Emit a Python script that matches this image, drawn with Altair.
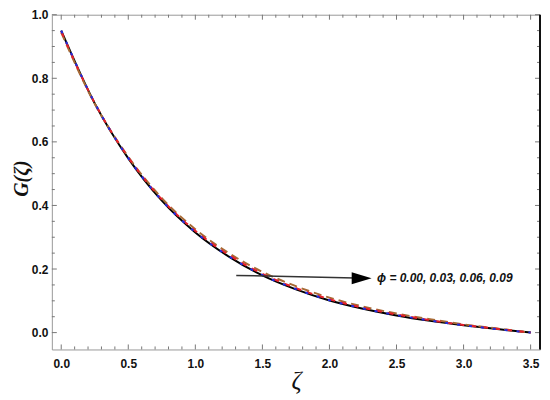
import altair as alt
import pandas as pd

# ---- data ----
zeta = [0.0, 0.25, 0.5, 0.75, 1.0, 1.25, 1.5, 1.75, 2.0, 2.25, 2.5, 2.75, 3.0, 3.25, 3.5]
G_black = [0.950, 0.721, 0.548, 0.415, 0.315, 0.239, 0.180, 0.136, 0.101, 0.075, 0.054, 0.037, 0.023, 0.011, 0.0]
G_blue = [0.950, 0.722, 0.549, 0.416, 0.316, 0.240, 0.181, 0.137, 0.102, 0.076, 0.055, 0.038, 0.023, 0.011, 0.0]
G_red = [0.948, 0.722, 0.551, 0.419, 0.320, 0.244, 0.185, 0.140, 0.105, 0.078, 0.057, 0.039, 0.024, 0.012, 0.0]
G_brown = [0.944, 0.720, 0.553, 0.423, 0.325, 0.250, 0.191, 0.146, 0.110, 0.082, 0.060, 0.042, 0.026, 0.013, 0.0]

x_major = [0.0, 0.5, 1.0, 1.5, 2.0, 2.5, 3.0, 3.5]
y_major = [0.0, 0.2, 0.4, 0.6, 0.8, 1.0]
x_minor = [round(i * 0.1, 2) for i in range(0, 36) if i % 5 != 0]
y_minor = [round(i * 0.05, 2) for i in range(0, 20) if i % 4 != 0]

arrow_x = [1.305, 2.19]
arrow_y = [0.180, 0.1715]
head_x = [2.24]
head_y = [0.171]
label_x = [2.355]
label_y = [0.171]
label_text = ["ϕ = 0.00, 0.03, 0.06, 0.09"]

W, H = 490, 336
XDOM = [-0.07, 3.57]
YDOM = [-0.053, 1.0]
xs = alt.Scale(domain=XDOM, nice=False, zero=False)
ys = alt.Scale(domain=YDOM, nice=False, zero=False)

LABEL_FONT = "Liberation Sans"

XAXIS = alt.Axis(
    values=x_major, format=".1f", ticks=False, domain=False, grid=False,
    labelFont=LABEL_FONT, labelFontWeight="bold", labelFontSize=12, labelColor="#111",
    labelPadding=9, title="ζ", titleFont="Liberation Serif", titleFontStyle="italic",
    titleFontWeight="normal", titleFontSize=25, titleColor="#111",
    titleY=39, titleBaseline="alphabetic")
YAXIS = alt.Axis(
    values=y_major, format=".1f", ticks=False, domain=False, grid=False,
    labelFont=LABEL_FONT, labelFontWeight="bold", labelFontSize=12, labelColor="#111",
    labelPadding=4, title="G(ζ)", titleFont="Liberation Serif", titleFontStyle="italic",
    titleFontWeight="bold", titleFontSize=20, titleColor="#111",
    titleX=-30, titleY=164, titleAlign="center", titleBaseline="middle", titleAngle=-90)

def X():
    return alt.X("x:Q", scale=xs, axis=XAXIS)

def Y():
    return alt.Y("y:Q", scale=ys, axis=YAXIS)

def series(vals, name):
    return pd.DataFrame({"x": zeta, "y": vals, "s": name})

def curve(vals, name, color, dash):
    mk = dict(color=color, strokeWidth=2, interpolate="monotone")
    if dash:
        mk["strokeDash"] = dash
    return alt.Chart(series(vals, name)).mark_line(**mk).encode(x=X(), y=Y())

black = curve(G_black, "black", "#000000", None)
brown = curve(G_brown, "brown", "#a86a36", [8, 5])
red = curve(G_red, "red", "#e8202a", [6, 6])
blue = curve(G_blue, "blue", "#1f2ee0", [3, 9])

TICK = "#777777"

def xticks(vals, length, top):
    df = pd.DataFrame({"x": vals})
    if top:
        y1, y2 = 0, length
    else:
        y1, y2 = H, H - length
    return alt.Chart(df).mark_rule(color=TICK, strokeWidth=1).encode(
        x=X(), y=alt.value(y1), y2=alt.value(y2))

def yticks(vals, length, right):
    df = pd.DataFrame({"y": vals})
    if right:
        x1, x2 = W, W - length
    else:
        x1, x2 = 0, length
    return alt.Chart(df).mark_rule(color=TICK, strokeWidth=1).encode(
        y=Y(), x=alt.value(x1), x2=alt.value(x2))

ticks = [
    xticks(x_major, 5, False), xticks(x_minor, 3, False),
    xticks(x_major, 5, True), xticks(x_minor, 3, True),
    yticks(y_major, 5, False), yticks(y_minor, 3, False),
    yticks(y_major, 5, True), yticks(y_minor, 3, True),
]

right_frame = alt.Chart(pd.DataFrame({"k": [0]})).mark_rule(color="#111", strokeWidth=2).encode(
    x=alt.value(W), y=alt.value(0), y2=alt.value(H))

arrow_line = alt.Chart(pd.DataFrame({"x": arrow_x, "y": arrow_y})).mark_line(
    color="#333", strokeWidth=1.5).encode(x=X(), y=Y())

arrow_head = alt.Chart(pd.DataFrame({"x": head_x, "y": head_y})).mark_point(
    shape="M-1,-0.6L1,0L-1,0.6Z", filled=True, color="#000", size=400, opacity=1).encode(
    x=X(), y=Y())

label = alt.Chart(pd.DataFrame({"x": label_x, "y": label_y, "t": label_text})).mark_text(
    align="left", baseline="middle", font="Liberation Sans, DejaVu Sans", fontSize=12,
    fontWeight="bold", fontStyle="italic", color="#111").encode(
    x=X(), y=Y(), text="t:N")

chart = alt.layer(
    black, brown, red, blue, *ticks, right_frame, arrow_line, arrow_head, label
).properties(
    width=W, height=H,
    autosize=alt.AutoSizeParams(type="none"),
    padding={"left": 44, "top": 6, "right": 2, "bottom": 50},
    background="white",
).configure_view(stroke="#999999", strokeWidth=1)

chart.save("out.html", embed_options={"renderer": "svg", "actions": False})
